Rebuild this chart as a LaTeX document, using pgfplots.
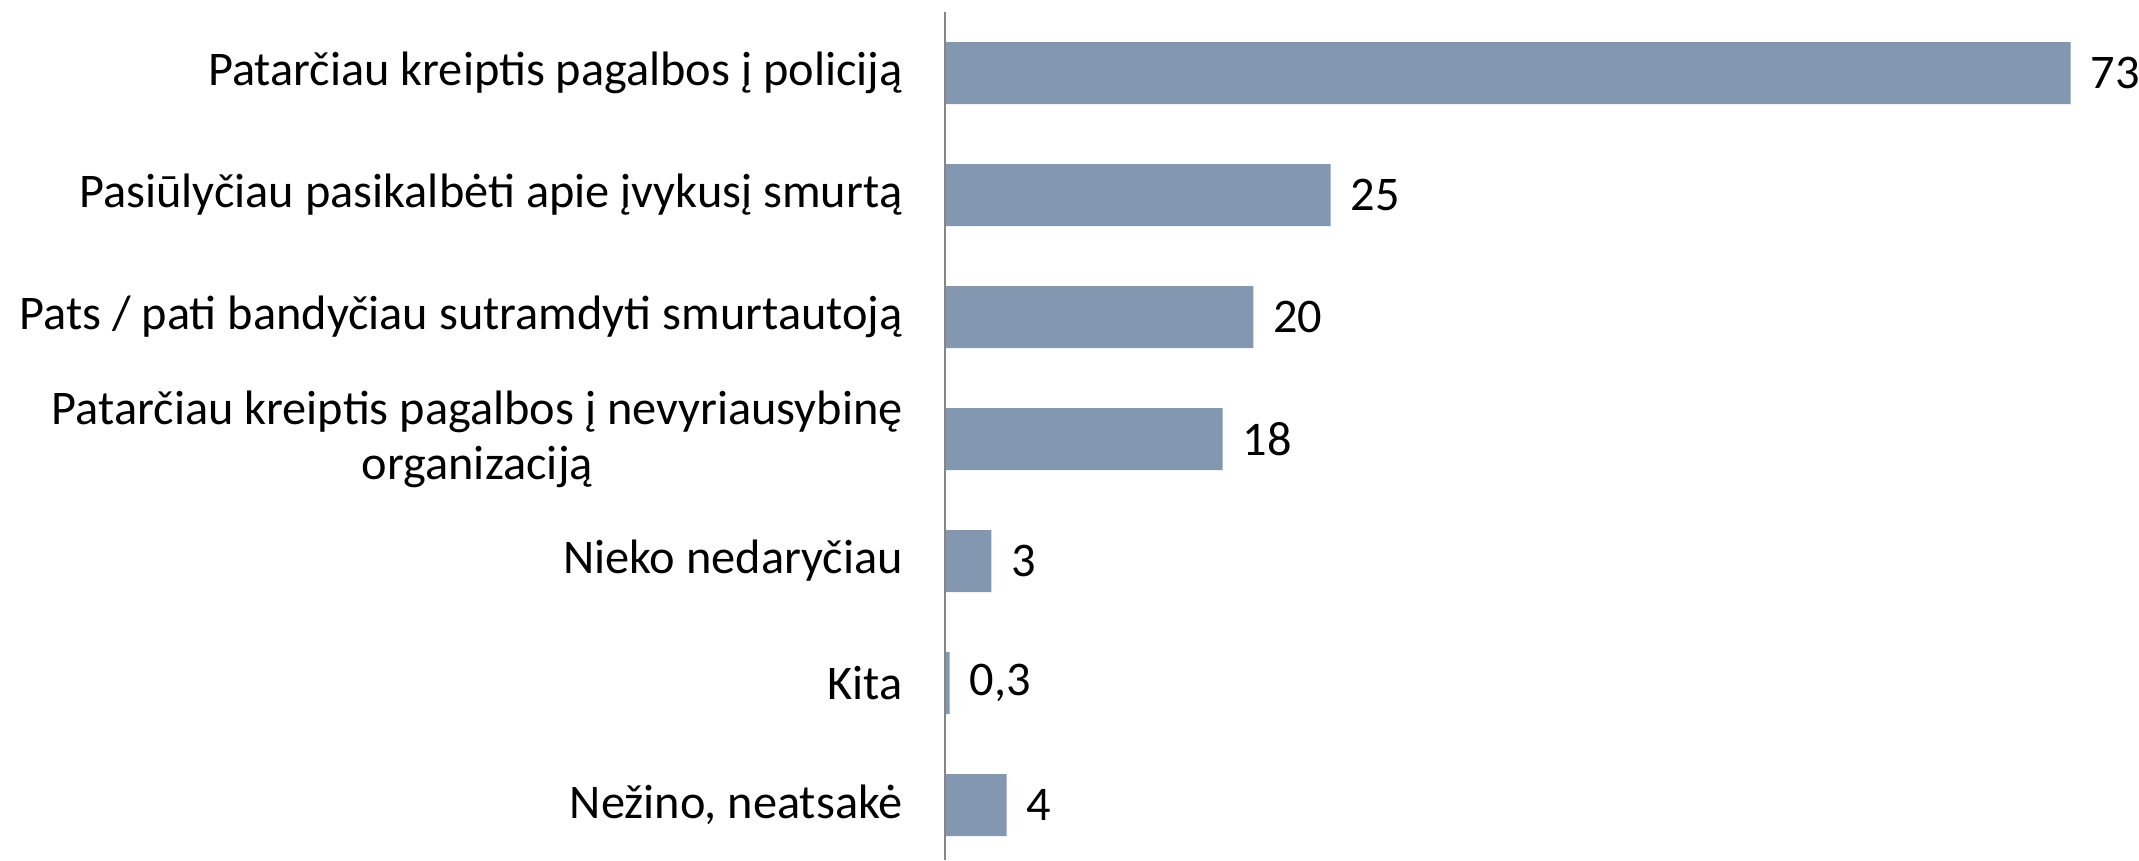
\documentclass[border=0pt]{standalone}
\usepackage{pgfplots}
\pgfplotsset{compat=1.18}
\usepackage{fontspec}
\setmainfont{Carlito}
\definecolor{barc}{HTML}{8497B0}
\definecolor{axc}{HTML}{868686}
\begin{document}
\begin{tikzpicture}
\useasboundingbox (0,0) rectangle (641.7pt,258pt);
\begin{axis}[
 at={(283.5pt,0pt)}, anchor=south west,
 width=358.2pt, height=254.4pt, scale only axis,
 xbar, bar width=18.6pt,
 xmin=0, xmax=77.43,
 ymin=-0.5, ymax=6.45, y dir=reverse,
 axis line style={draw=none},
 xtick=\empty,
 ytick={0,1,2,3,4,5,6},
 yticklabels={Patarčiau kreiptis pagalbos į policiją,
   Pasiūlyčiau pasikalbėti apie įvykusį smurtą,
   Pats / pati bandyčiau sutramdyti smurtautoją,
   {Patarčiau kreiptis pagalbos į nevyriausybinę\\organizaciją},
   Nieko nedaryčiau, Kita, {Nežino, neatsakė}},
 major tick length=0pt,
 yticklabel style={align=center, inner sep=0pt, xshift=-12.5pt, font=\fontsize{14.5}{16.5}\selectfont},
 clip=false,
]
\addplot[fill=barc, draw=none, nodes near coords, point meta=explicit symbolic,
  nodes near coords style={anchor=west, inner sep=0pt, xshift=5.8pt, font=\fontsize{14.5}{16}\selectfont, black}]
  table[meta=lab] {
x y lab
73 0 73
25 1 25
20 2 20
18 3 18
3 4 3
0.3 5 0,3
4 6 4
};
\draw[axc, line width=0.4pt] (axis cs:0,-0.5) -- (axis cs:0,6.45);
\end{axis}
\end{tikzpicture}
\end{document}
